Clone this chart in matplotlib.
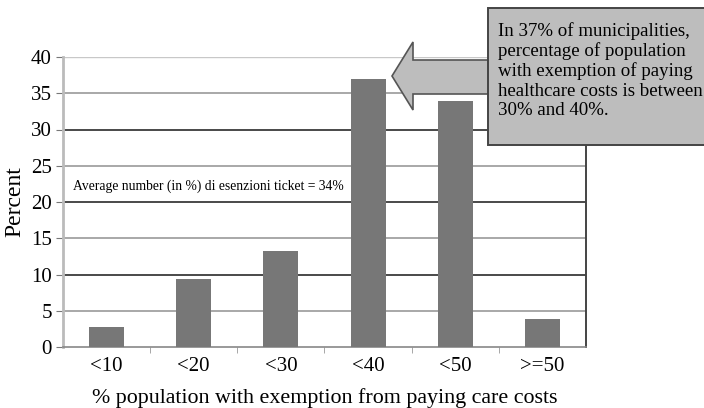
import matplotlib
matplotlib.use("Agg")
import matplotlib.pyplot as plt
from matplotlib.patches import Polygon, Rectangle

# Share of municipalities by exemption band
categories = ["<10", "<20", "<30", "<40", "<50", ">=50"]
percent = [2.8, 9.4, 13.2, 37.0, 34.0, 3.8]
y_ticks = [0, 5, 10, 15, 20, 25, 30, 35, 40]
dark_grid = [10, 20, 30]

average_note = "Average number (in %) di esenzioni ticket = 34%"
callout = ("In 37% of municipalities,\npercentage of population\n"
           "with exemption of paying\nhealthcare costs is between\n30% and 40%.")

plt.rcParams["font.family"] = ["Liberation Serif", "DejaVu Serif"]

W, H = 704, 408
fig = plt.figure(figsize=(W / 100, H / 100), dpi=100)
ax = fig.add_axes([63 / W, 1 - 347 / H, (586 - 63) / W, (347 - 57) / H])

x = list(range(len(categories)))
ax.bar(x, percent, width=0.4, color="#777777", zorder=3)

ax.set_xlim(-0.5, len(categories) - 0.5)
ax.set_ylim(0, 40)

# horizontal grid lines, alternating darker ones
for v in y_ticks[1:]:
    col = "#3a3a3a" if v in dark_grid else "#9a9a9a"
    lw = 1.3 if v in dark_grid else 1.2
    if v == 40:
        col, lw = "#c8c8c8", 1.0
    ax.axhline(v, color=col, lw=lw, zorder=1)

ax.set_yticks(y_ticks)
ax.set_yticklabels([str(v) for v in y_ticks], fontsize=15)
ax.tick_params(axis="y", length=5, color="#777777", pad=3)

ax.set_xticks(x)
ax.set_xticklabels(categories, fontsize=15)
ax.tick_params(axis="x", length=0, pad=7)
ax.set_xticks([i + 0.5 for i in range(len(categories) - 1)], minor=True)
ax.tick_params(axis="x", which="minor", length=4, color="#999999")

ax.spines["top"].set_visible(False)
ax.spines["left"].set_color("#bbbbbb")
ax.spines["left"].set_linewidth(2.0)
ax.spines["bottom"].set_color("#888888")
ax.spines["bottom"].set_linewidth(1.2)
ax.spines["right"].set_color("#444444")
ax.spines["right"].set_linewidth(1.4)

ax.set_ylabel("Percent", fontsize=17, labelpad=4)
ax.set_xlabel("% population with exemption from paying care costs",
              fontsize=15.8, labelpad=9)

ax.text(10 / 523, 22.2, average_note, fontsize=9.8, va="center", ha="left",
        transform=ax.get_yaxis_transform(), zorder=4)

# Callout box with arrow pointing at the <40 bar
def fp(px, py):
    return (px / W, 1 - py / H)

arrow_pts = [fp(392, 76), fp(413, 42), fp(413, 60), fp(492, 60),
             fp(492, 94), fp(413, 94), fp(413, 110)]
fig.patches.append(Polygon(arrow_pts, closed=True, transform=fig.transFigure,
                           facecolor="#bdbdbd", edgecolor="#555555", lw=1.2,
                           zorder=5))
bx, by = fp(488, 145)
fig.patches.append(Rectangle((bx, by), (730 - 488) / W, (145 - 8) / H,
                             transform=fig.transFigure, facecolor="#bdbdbd",
                             edgecolor="#444444", lw=1.4, zorder=6))
fig.text(498 / W, 1 - 22 / H, callout, fontsize=13.6, va="top", ha="left",
         linespacing=1.17, zorder=7)

fig.savefig("out.png", dpi=100)
